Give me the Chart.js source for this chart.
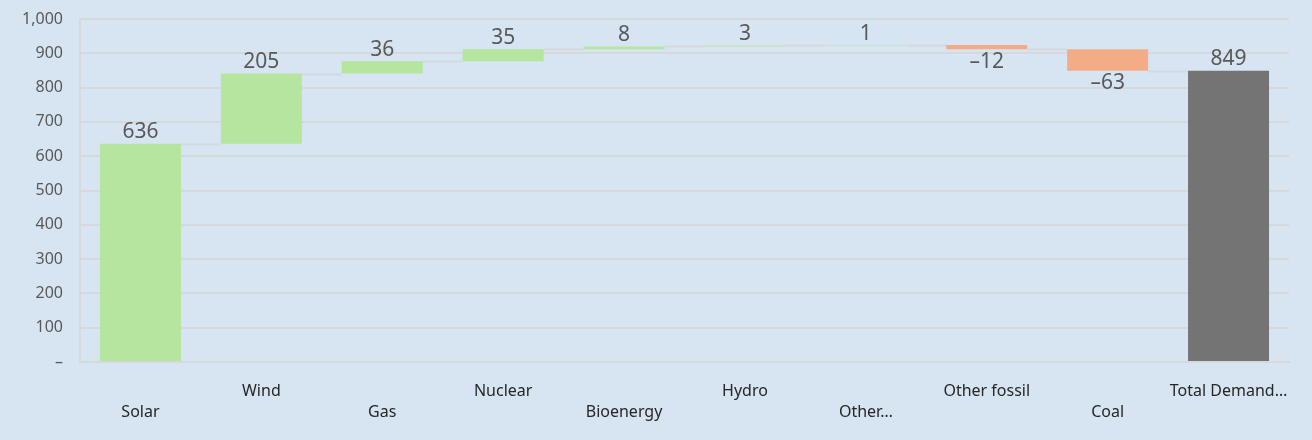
<!DOCTYPE html>
<html>
<head>
<meta charset="utf-8">
<script src="https://cdn.jsdelivr.net/npm/chart.js@4/dist/chart.umd.min.js"></script>
<style>
  html, body { margin: 0; padding: 0; background: #d7e5f2; }
  #wrap { position: relative; width: 1312px; height: 440px; }
</style>
</head>
<body>
<div id="wrap"><canvas id="waterfall"></canvas></div>
<script>
// ── Data ────────────────────────────────────────────────────────────────────
const categories = ['Solar', 'Wind', 'Gas', 'Nuclear', 'Bioenergy', 'Hydro',
                    'Other…', 'Other fossil', 'Coal', 'Total Demand…'];
const changes    = [636, 205, 36, 35, 8, 3, 1, -12, -63];
const total      = 849;
const yTicks     = [0, 100, 200, 300, 400, 500, 600, 700, 800, 900, 1000];

// ── Colours ─────────────────────────────────────────────────────────────────
const C = {
  up:    '#b5e59f',
  down:  '#f4ac86',
  total: '#747474',
  grid:  '#d6d9dc',
  text:  '#595959',
  axis:  '#262626',
};

// Build floating [start, end] ranges from the change list
let running = 0;
const ranges = [];
const labels = [];
changes.forEach(v => {
  ranges.push([running, running + v]);
  labels.push(v);
  running += v;
});
ranges.push([0, total]);
labels.push(total);
const colors = labels.map((v, i) => i === labels.length - 1 ? C.total : (v >= 0 ? C.up : C.down));

// ── Plugin: connector lines between bars ────────────────────────────────────
const connectors = {
  id: 'connectors',
  beforeDatasetsDraw(chart) {
    const { ctx, scales: { y } } = chart;
    const bars = chart.getDatasetMeta(0).data;
    ctx.save();
    ctx.strokeStyle = C.grid;
    ctx.lineWidth = 2;
    for (let i = 0; i < bars.length - 1; i++) {
      const level = ranges[i][1];
      const py = Math.round(y.getPixelForValue(level)) + 0.5;
      const x1 = bars[i].x + bars[i].width / 2;
      const x2 = bars[i + 1].x - bars[i + 1].width / 2;
      ctx.beginPath();
      ctx.moveTo(x1, py);
      ctx.lineTo(x2, py);
      ctx.stroke();
    }
    ctx.restore();
  },
};

// ── Plugin: value labels (above for gains, below for losses) ────────────────
const valueLabels = {
  id: 'valueLabels',
  afterDatasetsDraw(chart) {
    const { ctx, scales: { y } } = chart;
    const bars = chart.getDatasetMeta(0).data;
    ctx.save();
    ctx.font = '21px "Noto Sans", sans-serif';
    ctx.fillStyle = C.text;
    ctx.textAlign = 'center';
    bars.forEach((bar, i) => {
      const v = labels[i];
      const [a, b] = ranges[i];
      const top = y.getPixelForValue(Math.max(a, b));
      const bottom = y.getPixelForValue(Math.min(a, b));
      if (v >= 0) {
        ctx.textBaseline = 'bottom';
        ctx.fillText(String(v), bar.x, top - 1);
      } else {
        ctx.textBaseline = 'top';
        ctx.fillText(String(v).replace('-', '–'), bar.x, bottom + 2);
      }
    });
    ctx.restore();
  },
};

new Chart(document.getElementById('waterfall'), {
  type: 'bar',
  data: {
    labels: categories,
    datasets: [{
      data: ranges,
      backgroundColor: colors,
      borderWidth: 0,
      borderSkipped: false,
      categoryPercentage: 1,
      barPercentage: 0.67,
    }],
  },
  options: {
    responsive: true,
    maintainAspectRatio: false,
    animation: false,
    layout: { padding: { top: 19, right: 23, bottom: 0, left: 0 } },
    plugins: {
      legend: { display: false },
      tooltip: { enabled: false },
    },
    scales: {
      y: {
        min: 0,
        max: 1000,
        afterBuildTicks: axis => { axis.ticks = yTicks.map(v => ({ value: v })); },
        afterFit: axis => {
          axis.width = 80;
          axis.paddingTop = 0;
          axis.paddingBottom = 0;
        },
        grid: { color: C.grid, lineWidth: 2, drawTicks: false },
        border: { color: C.grid, width: 2 },
        ticks: {
          color: C.text,
          padding: 17,
          font: { family: '"Noto Sans", sans-serif', size: 16 },
          callback: v => v === 0 ? '–' : v.toLocaleString('en-US'),
        },
      },
      x: {
        afterFit: axis => { axis.height = 78; },
        grid: { display: false, drawTicks: false },
        border: { color: C.grid, width: 2 },
        ticks: {
          color: C.axis,
          padding: 19,
          autoSkip: false,
          maxRotation: 0,
          font: { family: '"Noto Sans", sans-serif', size: 16, lineHeight: 1.3 },
          // stagger labels onto two rows, like the original
          callback: (v, i) => i % 2 === 0 ? ['', categories[i]] : [categories[i], ''],
        },
      },
    },
  },
  plugins: [connectors, valueLabels],
});
</script>
</body>
</html>
